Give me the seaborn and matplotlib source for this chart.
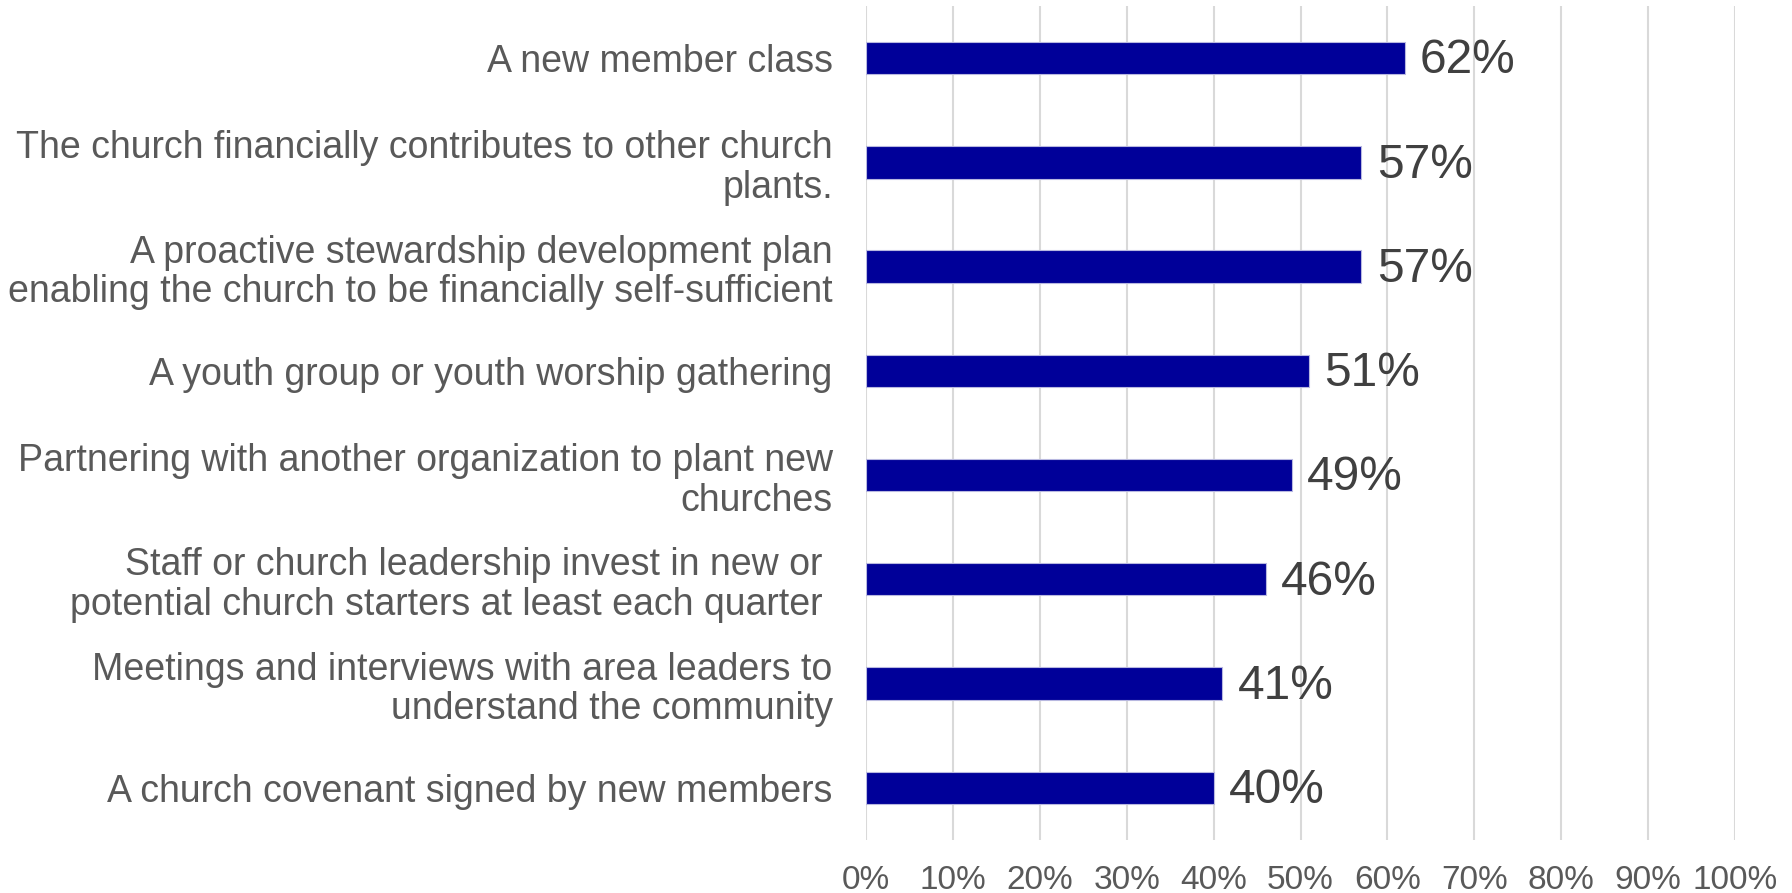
import pandas as pd
import matplotlib.pyplot as plt
import seaborn as sns

# survey items (top to bottom) and share of churches reporting each
practices = [
    "A new member class",
    "The church financially contributes to other church\nplants.",
    "A proactive stewardship development plan\nenabling the church to be financially self-sufficient",
    "A youth group or youth worship gathering",
    "Partnering with another organization to plant new\nchurches",
    "Staff or church leadership invest in new or \npotential church starters at least each quarter ",
    "Meetings and interviews with area leaders to\nunderstand the community",
    "A church covenant signed by new members",
]
pct = [62, 57, 57, 51, 49, 46, 41, 40]
x_ticks = list(range(0, 101, 10))

BAR_COLOR = "#000099"
LABEL_GREY = "#595959"
VALUE_GREY = "#404040"

sns.set_style("white")
plt.rcParams["font.family"] = ["Liberation Sans", "DejaVu Sans"]

df = pd.DataFrame({"practice": practices, "pct": pct})

fig = plt.figure(figsize=(17.92, 8.93), dpi=100)
ax = fig.add_axes([0.4833, 0.0594, 0.4849, 0.9339])

sns.barplot(data=df, y="practice", x="pct", orient="h", color=BAR_COLOR,
            saturation=1, width=0.31, edgecolor="#b8b8e0", linewidth=0.8, ax=ax)

ax.set_xlim(0, 100)
ax.set_ylim(len(practices) - 0.5, -0.5)
ax.set_xticks(x_ticks)
ax.set_xticklabels([f"{t}%" for t in x_ticks], fontsize=24, color=LABEL_GREY)
ax.tick_params(axis="x", length=0, pad=18)
ax.tick_params(axis="y", length=0, pad=24, labelsize=27, labelcolor=LABEL_GREY)
for lbl in ax.get_yticklabels():
    lbl.set_linespacing(1.13)
    lbl.set_horizontalalignment("right")
    lbl.set_verticalalignment("center_baseline")

ax.grid(axis="x", color="#d9d9d9", linewidth=1.5)
ax.set_axisbelow(True)
sns.despine(ax=ax, left=True, bottom=True)
ax.set_xlabel("")
ax.set_ylabel("")

# value labels at the end of each bar
for i, v in enumerate(pct):
    ax.annotate(f"{v}%", xy=(v, i), xytext=(11, -2), textcoords="offset points",
                va="center", ha="left", fontsize=34.5, color=VALUE_GREY)

fig.savefig("out.png", dpi=100)
